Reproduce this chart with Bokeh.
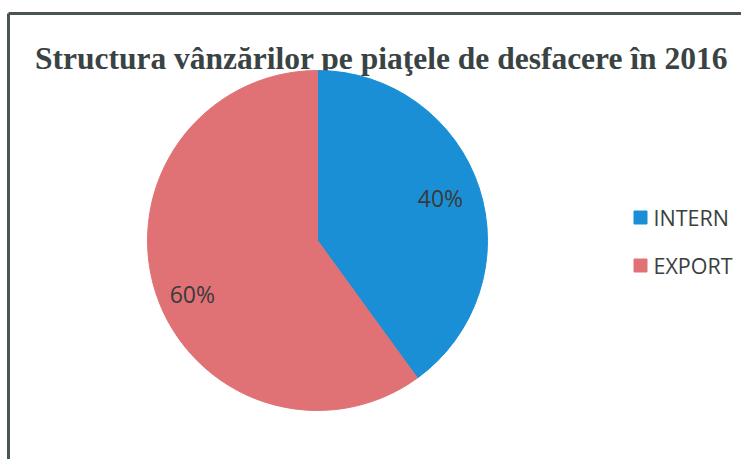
import math
from bokeh.plotting import figure
from bokeh.models import ColumnDataSource
from bokeh.core.properties import value
from bokeh.embed import file_html
from bokeh.resources import INLINE

title_text = "Structura vânzărilor pe piaţele de desfacere în 2016"
categories = ["INTERN", "EXPORT"]
shares = [40, 60]
colors = ["#1a8fd6", "#e07276"]

W, H = 741, 459
p = figure(width=W, height=H, x_range=(0, W), y_range=(0, H),
           output_backend="svg", toolbar_location=None,
           min_border=0, background_fill_color="white", border_fill_color="white")
p.axis.visible = False
p.grid.visible = False
p.outline_line_color = None

# frame (scanned box)
p.line(x=[8, 8], y=[0, H - 13], line_color="#4b5454", line_width=3)
p.line(x=[8, W], y=[H - 13, H - 13], line_color="#4b5454", line_width=3)

# title
p.text(x=[381], y=[H - 58], text=[title_text], text_align="center",
       text_baseline="alphabetic", text_font=value("Liberation Serif"),
       text_font_style="bold", text_font_size="31.5px", text_color="#3a4343")

# pie
cx, cy, R = 317, H - 240, 170
total = sum(shares)
starts, ends, mids = [], [], []
a = math.pi / 2
for v in shares:
    sweep = v / total * 2 * math.pi
    starts.append(a - sweep)
    ends.append(a)
    mids.append(a - sweep / 2)
    a -= sweep
src = ColumnDataSource(dict(start=starts, end=ends, color=colors))
p.wedge(x=cx, y=cy, radius=R, start_angle="start", end_angle="end",
        fill_color="color", line_color="color", line_width=1, source=src)

# data labels (Excel best-fit placement)
label_r = [130, 136]
label_shift = [math.radians(1), math.radians(5)]
p.text(x=[cx + r * math.cos(m + s) for m, r, s in zip(mids, label_r, label_shift)],
       y=[cy + r * math.sin(m + s) for m, r, s in zip(mids, label_r, label_shift)],
       text=[f"{v}%" for v in shares], text_align="center", text_baseline="middle",
       text_font=value("Open Sans"), text_font_size="23px", text_color="#3a3a3a")

# legend
ly = [cy + 23, cy - 25]
p.scatter(x=[640] * 2, y=ly, marker="square", size=13, fill_color=colors,
          line_color=colors)
p.text(x=[653] * 2, y=ly, text=categories, text_align="left", text_baseline="middle",
       text_font=value("Open Sans"), text_font_size="21.5px", text_color="#3a4040")

open("out.html", "w").write(file_html(p, INLINE))
